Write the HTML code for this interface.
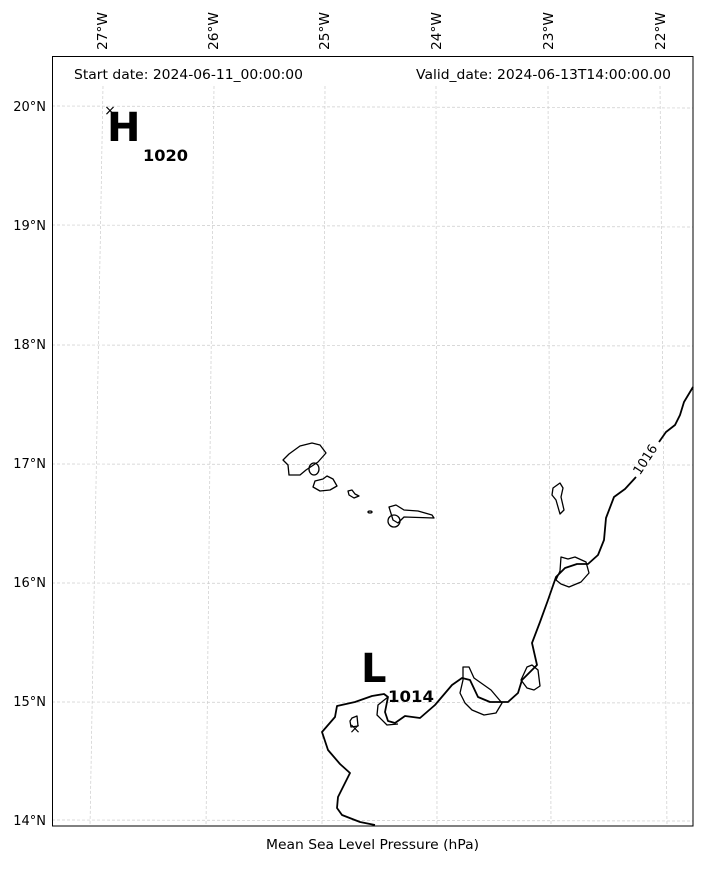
<!DOCTYPE html>
<html><head><style>body{margin:0;background:#fff}svg{display:block;font-family:"DejaVu Sans","Liberation Sans",sans-serif}</style></head>
<body>
<svg width="703" height="874" viewBox="0 0 703 874" xmlns="http://www.w3.org/2000/svg">
<rect width="703" height="874" fill="#fff"/>
<g stroke="#ccc" stroke-width="0.7" stroke-dasharray="3,2" fill="none">
<line x1="52" y1="106" x2="693" y2="108"/><line x1="52" y1="225" x2="693" y2="227"/>
<line x1="52" y1="345" x2="693" y2="346"/><line x1="52" y1="464" x2="693" y2="465"/>
<line x1="52" y1="583" x2="693" y2="584"/><line x1="52" y1="702" x2="693" y2="703"/>
<line x1="52" y1="820" x2="693" y2="821"/>
<line x1="103" y1="86" x2="90" y2="826"/><line x1="214" y1="86" x2="206" y2="826"/>
<line x1="325" y1="86" x2="322" y2="826"/><line x1="436" y1="86" x2="437" y2="826"/>
<line x1="548" y1="86" x2="551" y2="826"/><line x1="660" y1="86" x2="667" y2="826"/>
</g>
<rect x="52.5" y="56.5" width="640.5" height="769.5" fill="none" stroke="#000" stroke-width="1"/>
<g font-size="13" fill="#000">
<text x="107" y="50" transform="rotate(-90 107 50)" textLength="38" lengthAdjust="spacingAndGlyphs">27°W</text>
<text x="218" y="50" transform="rotate(-90 218 50)" textLength="38" lengthAdjust="spacingAndGlyphs">26°W</text>
<text x="329" y="50" transform="rotate(-90 329 50)" textLength="38" lengthAdjust="spacingAndGlyphs">25°W</text>
<text x="441" y="50" transform="rotate(-90 441 50)" textLength="38" lengthAdjust="spacingAndGlyphs">24°W</text>
<text x="553" y="50" transform="rotate(-90 553 50)" textLength="38" lengthAdjust="spacingAndGlyphs">23°W</text>
<text x="665" y="50" transform="rotate(-90 665 50)" textLength="38" lengthAdjust="spacingAndGlyphs">22°W</text>
<text x="46" y="111" text-anchor="end">20°N</text><text x="46" y="230" text-anchor="end">19°N</text>
<text x="46" y="349" text-anchor="end">18°N</text><text x="46" y="468" text-anchor="end">17°N</text>
<text x="46" y="587" text-anchor="end">16°N</text><text x="46" y="706" text-anchor="end">15°N</text>
<text x="46" y="825" text-anchor="end">14°N</text>
<text x="74" y="79" textLength="229" lengthAdjust="spacingAndGlyphs">Start date: 2024-06-11_00:00:00</text>
<text x="416" y="79" textLength="255" lengthAdjust="spacingAndGlyphs">Valid_date: 2024-06-13T14:00:00.00</text>
<text x="266" y="849" textLength="213" lengthAdjust="spacingAndGlyphs">Mean Sea Level Pressure (hPa)</text>
</g>
<g stroke="#000" stroke-width="1.3" fill="none" stroke-linejoin="round">
<path d="M289,454 L300,446 L312,443 L320,445 L326,453 L318,462 L306,470 L300,475 L289,475 L288,465 L283,460 Z"/>
<ellipse cx="314" cy="469" rx="5" ry="6"/>
<path d="M315,481 L323,479 L327,476 L333,479 L337,486 L330,490 L320,491 L313,487 Z"/>
<path d="M348,491 L352,490 L355,494 L359,496 L354,498 L349,495 Z"/>
<ellipse cx="370" cy="512" rx="2" ry="1"/>
<path d="M389,507 L396,505 L404,510 L418,511 L432,515 L434,518 L404,517 L398,523 L393,520 Z"/>
<ellipse cx="394" cy="521" rx="6" ry="6"/>
<path d="M553,488 L560,483 L563,488 L561,497 L564,510 L560,514 L556,500 L552,495 Z"/>
<path d="M561,557 L568,559 L575,557 L586,562 L589,573 L581,582 L569,587 L561,584 L556,580 L560,571 Z"/>
<path d="M463,667 L469,667 L474,678 L491,690 L502,703 L496,713 L484,715 L472,710 L465,703 L460,693 L463,680 Z"/>
<path d="M527,667 L532,665 L538,670 L540,686 L534,690 L527,688 L521,680 Z"/>
<path d="M352,718 L357,716 L358,726 L351,727 L350,721 Z"/>
<path d="M388,697 L378,705 L377,715 L387,725 L398,724"/>
</g>
<path d="M375,825 L360,822 L342,815 L337,808 L338,797 L350,773 L340,764 L328,750 L322,732 L335,717 L337,706 L355,702 L372,696 L384,694 L388,697 L385,712 L388,721 L395,723 L405,716 L420,718 L435,705 L452,685 L462,678 L470,680 L478,697 L490,702 L508,702 L518,693 L522,680 L537,665 L532,643 L540,622 L548,600 L556,577 L565,568 L577,564 L588,564 L598,555 L604,540 L606,518 L614,497 L625,489 L636,477" stroke="#000" stroke-width="1.8" fill="none" stroke-linejoin="round"/>
<path d="M659,442 L666,432 L675,425 L680,415 L684,402 L693,387" stroke="#000" stroke-width="1.8" fill="none"/>
<text x="646" y="460" font-size="13" transform="rotate(-57 646 460)" text-anchor="middle" dominant-baseline="middle">1016</text>
<text x="110" y="111" font-size="14" text-anchor="middle" dominant-baseline="middle">×</text>
<text x="355" y="729" font-size="14" text-anchor="middle" dominant-baseline="middle">×</text>
<text x="107" y="141" font-size="40" font-weight="bold">H</text>
<text x="143" y="161" font-size="16" font-weight="bold" textLength="45" lengthAdjust="spacingAndGlyphs">1020</text>
<text x="361" y="682" font-size="40" font-weight="bold">L</text>
<text x="388" y="702" font-size="16" font-weight="bold" textLength="46" lengthAdjust="spacingAndGlyphs">1014</text>
</svg>
</body></html>
